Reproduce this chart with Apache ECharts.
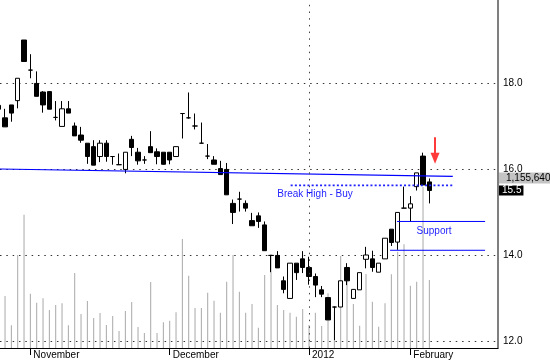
<!DOCTYPE html>
<html><head><meta charset="utf-8">
<script src="https://cdn.jsdelivr.net/npm/echarts@6/dist/echarts.min.js"></script>
<style>html,body{margin:0;padding:0;background:#fff}#c{width:550px;height:364px}</style>
</head><body><div id="c"></div>
<script>
// daily candles, index = trading day: [open, close, low, high]
const ohlc = [
[17.48,17.39,17.39,17.48],[17.19,16.98,16.98,17.40],[17.49,17.30,17.10,17.49],[17.59,18.11,17.41,18.11],
[19.00,18.50,18.50,19.00],[18.30,18.30,18.11,18.67],[17.99,17.69,17.69,18.27],[17.79,17.49,17.31,17.81],
[17.80,17.39,17.39,17.80],[17.20,17.20,17.13,17.58],[16.99,17.40,16.99,17.58],[17.40,17.30,17.30,17.58],
[17.00,16.77,16.77,17.08],[16.79,16.67,16.61,16.98],[16.60,16.29,16.12,16.60],[16.52,16.09,16.09,16.67],
[16.29,16.60,16.16,16.67],[16.60,16.29,16.17,16.67],[16.29,16.29,16.10,16.29],[16.10,16.10,16.10,16.36],
[15.99,16.39,15.90,16.39],[16.69,16.50,16.30,16.77],[16.39,16.19,16.10,16.49],[16.21,16.21,16.12,16.30],
[16.52,16.38,16.38,16.88],[16.40,16.29,16.11,16.48],[16.39,16.11,16.10,16.39],[16.39,16.21,16.11,16.39],
[16.29,16.52,16.29,16.52],[17.29,17.29,16.71,17.29],[17.19,17.19,17.17,17.78],[17.00,17.00,16.92,17.29],
[16.60,16.60,16.60,17.08],[16.30,16.30,16.23,16.58],[16.21,16.11,16.11,16.30],[16.01,15.87,15.87,16.19],
[15.99,15.40,15.40,16.14],[15.20,14.99,14.72,15.29],[15.30,15.30,15.01,15.47],[15.20,15.09,15.01,15.27],
[14.80,14.68,14.68,14.98],[14.91,14.78,14.63,14.99],[14.70,14.10,14.10,14.78],[13.99,13.99,13.60,13.99],
[13.99,13.70,13.70,14.09],[13.40,13.20,13.11,13.50],[12.99,13.81,12.99,13.81],[13.81,13.59,13.42,13.81],
[13.91,13.71,13.58,14.09],[13.71,13.50,13.31,13.96],[13.50,13.30,13.02,13.57],[13.19,13.09,13.02,13.28],
[13.01,12.49,12.49,13.01],[12.79,12.79,12.02,12.80],[12.79,13.40,12.79,13.40],[13.71,13.40,13.30,13.81],
[12.99,13.20,12.99,13.20],[13.19,13.59,13.19,13.59],[13.90,14.00,13.69,14.19],[13.91,13.71,13.61,14.10],
[13.60,13.81,13.60,13.81],[13.91,14.39,13.91,14.39],[14.60,14.29,14.21,14.60],[14.30,14.99,14.12,14.99],
[15.09,15.09,15.09,15.59],[15.09,15.19,14.77,15.37],[15.59,15.91,15.50,15.91],[16.30,15.63,15.63,16.38],
[15.70,15.50,15.20,15.78]
];
const volumes = [700000,884000,386000,1581000,2265000,923000,770000,845000,646000,731000,760000,386000,
1275000,578000,799000,510000,595000,391000,544000,289000,629000,782000,357000,255000,1122000,255000,
437000,464000,607000,1852000,1229000,680000,680000,940000,804000,600000,1127000,1581000,957000,600000,
748000,345000,1241000,1598000,731000,646000,600000,532000,663000,391000,600000,374000,930000,617000,
1564000,1338000,748000,379000,1258000,787000,362000,760000,1253000,1637000,1762000,1059000,1127000,
2736000,1155640];
const monthTicks = [5, 27, 49, 65];
const monthLabels = ['November', 'December', '2012', 'February'];
const yearBreak = 49;
const lastClose = 15.5;
const volumeTag = '1,155,640';
const trendLine = [[0, 16.0], [71.7, 15.83]];
const breakHigh = [[46.1, 15.62], [71.8, 15.62]];
const supportHigh = [[62.9, 14.78], [76.8, 14.78]];
const supportLow = [[61.8, 14.11], [76.8, 14.11]];
const arrowLine = [[68.9, 16.74], [68.9, 16.25]];

const X_MIN = 0.205, X_MAX = 78.84, VOL_MAX = 5914000;
const font = 'Liberation Sans, Arial, sans-serif';
const blue = '#0000ff';
const clear = 'rgba(0,0,0,0)';

const chart = echarts.init(document.getElementById('c'), null, {renderer: 'canvas'});
const textLabel = (txt) => ({show: true, position: 'right', distance: 0, formatter: txt,
  color: '#1f1fff', fontSize: 10, fontFamily: font});

chart.setOption({
  animation: false,
  backgroundColor: '#fff',
  grid: [
    {left: 0, right: 52, top: -3, bottom: 23, outerBoundsMode: 'none', containLabel: false},
    {left: 0, right: 52, top: 0, bottom: 16, outerBoundsMode: 'none', containLabel: false}
  ],
  xAxis: [
    {type: 'value', gridIndex: 0, min: X_MIN, max: X_MAX, show: false, splitLine: {show: false}},
    {type: 'value', gridIndex: 1, min: X_MIN, max: X_MAX,
      axisLine: {show: true, onZero: false, lineStyle: {color: '#000', width: 1}},
      splitLine: {show: false},
      axisTick: {show: true, customValues: monthTicks, length: 7, lineStyle: {color: '#000'}},
      axisLabel: {show: true, customValues: monthTicks,
        formatter: v => monthLabels[monthTicks.indexOf(v)],
        align: 'left', padding: [0, 0, 0, 3], margin: 2, fontSize: 10, color: '#000', fontFamily: font}
    }
  ],
  yAxis: [
    {type: 'value', gridIndex: 0, position: 'right', min: 12, max: 20, interval: 2,
      axisLine: {show: false}, axisTick: {show: false},
      axisLabel: {margin: 5, fontSize: 10, color: '#000', fontFamily: font, formatter: v => v.toFixed(1)},
      splitLine: {show: true, lineStyle: {color: '#333', width: 1, type: [1.5, 4.83]}}},
    {type: 'value', gridIndex: 1, position: 'right', min: 0, max: VOL_MAX,
      axisLine: {show: true, onZero: false, lineStyle: {color: '#555', width: 1.5}},
      axisTick: {show: false}, axisLabel: {show: false}, splitLine: {show: false}}
  ],
  series: [
    {type: 'bar', xAxisIndex: 1, yAxisIndex: 1, barWidth: 1, z: 1,
      data: volumes.map((v, i) => [i, v]),
      itemStyle: {color: '#a8a8a8'},
      markLine: {silent: true, symbol: 'none', label: {show: false},
        lineStyle: {color: '#444', width: 1, type: [1.5, 5.2]},
        data: [{xAxis: yearBreak}]}
    },
    {type: 'candlestick', xAxisIndex: 0, yAxisIndex: 0, z: 3, barWidth: 5,
      data: ohlc.map((d, i) => [i, d[0], d[1], d[2], d[3]]),
      encode: {x: 0, y: [1, 2, 3, 4]},
      itemStyle: {color: '#fff', color0: '#000', borderColor: '#000', borderColor0: '#000',
        borderColorDoji: '#000', borderWidth: 1}
    },
    {type: 'line', xAxisIndex: 0, yAxisIndex: 0, z: 6, symbol: 'none', data: [],
      markLine: {silent: true, symbol: 'none', lineStyle: {color: clear, width: 0},
        data: [
          {yAxis: 15.79,
            label: {show: true, position: 'end', distance: 1, formatter: volumeTag, color: '#000',
              backgroundColor: '#c4c4c4', padding: [1, 12, 0, 7], fontSize: 10, lineHeight: 10, fontFamily: font}},
          {yAxis: lastClose,
            label: {show: true, position: 'end', distance: 1, formatter: lastClose.toFixed(1), color: '#fff',
              backgroundColor: '#000', padding: [1, 2, 0, 3], fontSize: 10, lineHeight: 9, fontFamily: font}}
        ]}
    },
    {type: 'line', xAxisIndex: 0, yAxisIndex: 0, z: 4, symbol: 'none', data: trendLine,
      lineStyle: {color: blue, width: 1.2}},
    {type: 'line', xAxisIndex: 0, yAxisIndex: 0, z: 4, symbol: 'none', data: breakHigh,
      lineStyle: {color: '#2020ff', width: 1.6, type: [2, 2.2]},
      markPoint: {symbol: 'circle', symbolSize: 1, itemStyle: {color: clear},
        data: [{coord: [43.9, 15.42], label: textLabel('Break High - Buy')}]}},
    {type: 'line', xAxisIndex: 0, yAxisIndex: 0, z: 4, symbol: 'none', data: supportHigh,
      lineStyle: {color: blue, width: 1},
      markPoint: {symbol: 'circle', symbolSize: 1, itemStyle: {color: clear},
        data: [{coord: [65.9, 14.56], label: textLabel('Support')}]}},
    {type: 'line', xAxisIndex: 0, yAxisIndex: 0, z: 4, symbol: 'none', data: supportLow,
      lineStyle: {color: blue, width: 1}},
    {type: 'line', xAxisIndex: 0, yAxisIndex: 0, z: 5, symbol: 'none', data: [],
      markLine: {silent: true, label: {show: false},
        lineStyle: {color: '#ff3a3a', width: 2, type: 'solid'},
        data: [[{coord: arrowLine[0], symbol: 'none'},
                {coord: arrowLine[1], symbol: 'triangle', symbolSize: [9, 11]}]]}}
  ]
});
</script></body></html>
